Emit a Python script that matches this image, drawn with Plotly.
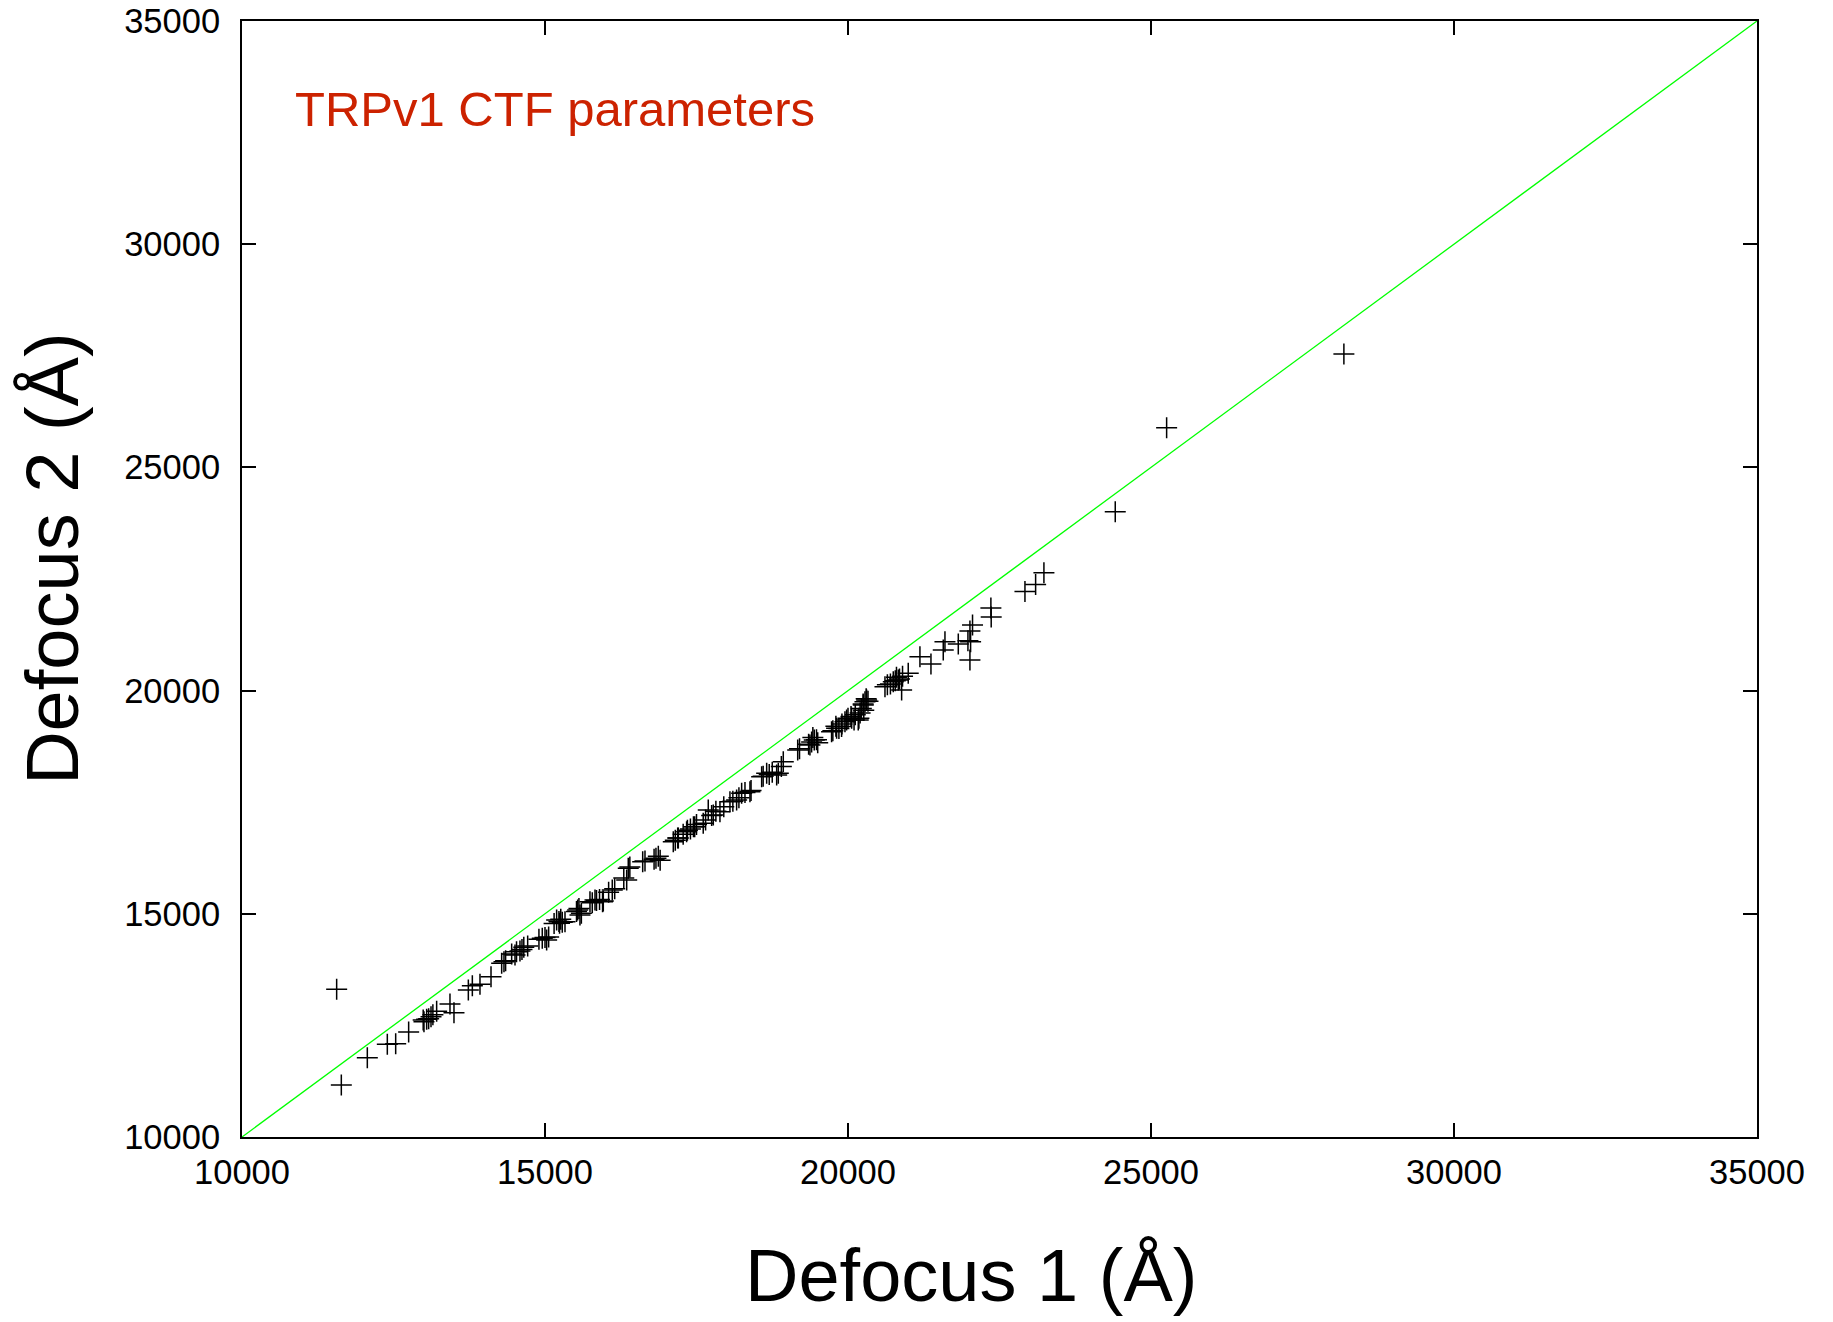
import plotly.graph_objects as go

# Defocus 1 (x) and Defocus 2 (y) values, in Angstrom
defocus1 = [
    11562, 11639, 12068, 12398, 12536, 12750, 13003, 13047, 13119, 13212,
    13432, 13498, 13735, 13801, 13927, 14109, 14285, 14323, 14505, 14587,
    14714, 14955, 15027, 15192, 15285, 15240, 15539, 15577, 15742, 15825,
    15962, 16110, 16348, 16374, 16612, 16831, 16870, 17117, 17190, 17337,
    17400, 17470, 17611, 17694, 17777, 17887, 18052, 18162, 18245, 18382,
    18575, 18658, 18823, 18932, 19170, 19372, 19443, 19729, 19812, 19894,
    19977, 20060, 20169, 20252, 20307, 20610, 20747, 20830, 20885, 20994,
    21187, 21369, 21572, 21600, 21820, 22012, 22023, 21979, 22012, 22055,
    22363, 22358, 22920, 23096, 23233, 24410, 25258, 28183,
    13080, 13150, 12990, 14350, 14450, 14530, 14620, 14650, 14900, 15000,
    15060, 15150, 15230, 15260, 15330, 15520, 15600, 15560, 15780, 15850,
    15900, 15950, 16050, 16150, 16300, 16400, 16650, 16800, 16900, 17150,
    17200, 17280, 17350, 17450, 17500, 17650, 17750, 17820, 17950, 18100,
    18200, 18300, 18400, 18600, 18700, 18750, 18850, 18900, 19200, 19350,
    19400, 19420, 19480, 19500, 19750, 19800, 19850, 19900, 19950, 20000,
    20050, 20100, 20120, 20200, 20220, 20250, 20280, 20300, 20330, 20180,
    20260, 20650, 20700, 20780, 20800, 20850, 20900,
]
defocus2 = [
    13309, 11165, 11777, 12076, 12090, 12352, 12583, 12636, 12695, 12815,
    12979, 12784, 13293, 13389, 13420, 13591, 13891, 13927, 14077, 14166,
    14278, 14451, 14413, 14861, 14809, 14790, 15085, 14973, 15271, 15309,
    15286, 15533, 15757, 16019, 16167, 16242, 16290, 16615, 16700, 16839,
    16900, 16950, 17027, 17325, 17213, 17287, 17511, 17549, 17699, 17735,
    18071, 18149, 18109, 18407, 18669, 18781, 18893, 19080, 19155, 19193,
    19341, 19379, 19341, 19677, 19789, 20088, 20200, 20237, 20013, 20387,
    20760, 20597, 20909, 21096, 21043, 20685, 21096, 21119, 21334, 21469,
    21648, 21850, 22219, 22376, 22638, 24007, 25889, 27539,
    12650, 12740, 12620, 13950, 14100, 14150, 14200, 14250, 14430, 14470,
    14480, 14780, 14830, 14880, 14820, 15050, 15010, 15120, 15250, 15300,
    15320, 15270, 15480, 15560, 15800, 16050, 16180, 16220, 16200, 16650,
    16700, 16780, 16870, 16950, 17000, 17100, 17200, 17300, 17400, 17520,
    17600, 17720, 17760, 18080, 18120, 18170, 18150, 18300, 18700, 18800,
    18850, 18950, 18900, 18830, 19100, 19200, 19150, 19250, 19300, 19380,
    19420, 19340, 19460, 19500, 19600, 19700, 19750, 19820, 19760, 19380,
    19560, 20130, 20150, 20220, 20300, 20260, 20320,
]

# y = x reference line
diag = [10000, 35000]

tick_vals = [10000, 15000, 20000, 25000, 30000, 35000]
tick_text = ["10000", "15000", "20000", "25000", "30000", "35000"]

fig = go.Figure()
fig.add_trace(go.Scatter(
    x=diag, y=diag, mode="lines",
    line=dict(color="#00ff00", width=1.3),
    showlegend=False, hoverinfo="skip",
))
fig.add_trace(go.Scatter(
    x=defocus1, y=defocus2, mode="markers",
    marker=dict(symbol="cross-thin", size=15, color="black",
                line=dict(color="black", width=1.5)),
    showlegend=False,
))

axis_common = dict(
    range=[10000, 35000],
    tickvals=tick_vals, ticktext=tick_text,
    ticks="inside", ticklen=14, tickwidth=2, tickcolor="black",
    showline=True, linewidth=2, linecolor="black", mirror="ticks",
    showgrid=False, zeroline=False, automargin=False,
    tickfont=dict(family="Liberation Sans, Arial, sans-serif", size=34.5, color="black"),
)

fig.update_xaxes(**axis_common, ticklabelstandoff=4)
fig.update_yaxes(**axis_common, ticklabelstandoff=13)

fig.add_annotation(
    text="Defocus 1 (Å)", xref="paper", yref="paper",
    x=0.4815, y=-0.1245, xanchor="center", yanchor="middle", showarrow=False,
    font=dict(family="Liberation Sans, Arial, sans-serif", size=74, color="black"),
)
fig.add_annotation(
    text="Defocus 2 (Å)", xref="paper", yref="paper", textangle=-90,
    x=-0.1248, y=0.518, xanchor="center", yanchor="middle", showarrow=False,
    font=dict(family="Liberation Sans, Arial, sans-serif", size=74, color="black"),
)
fig.add_annotation(
    text="TRPv1 CTF parameters", xref="paper", yref="paper",
    x=0.0335, y=0.921, xanchor="left", yanchor="middle", showarrow=False,
    font=dict(family="Liberation Sans, Arial, sans-serif", size=49, color="#cc2200"),
)

fig.update_layout(
    width=1833, height=1322,
    margin=dict(l=242, r=76, t=21, b=185),
    plot_bgcolor="white", paper_bgcolor="white",
)

fig.write_html("out.html", config={"displayModeBar": False},
               post_script="document.body.style.margin='0';")
